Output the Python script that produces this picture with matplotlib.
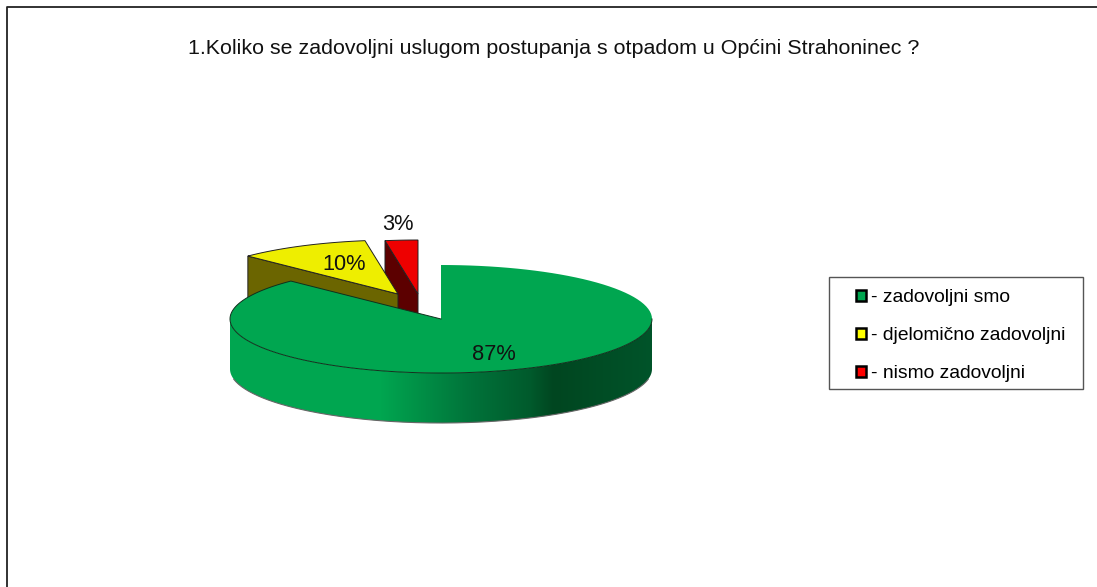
import numpy as np
import matplotlib
matplotlib.use('Agg')
import matplotlib.pyplot as plt
from matplotlib.patches import Patch, Polygon, Rectangle

plt.rcParams['font.family'] = ['Liberation Sans', 'DejaVu Sans']

title = '1.Koliko se zadovoljni uslugom postupanja s otpadom u Općini Strahoninec ?'
labels = ['- zadovoljni smo', '- djelomično zadovoljni', '- nismo zadovoljni']
values = [87.4, 10.1, 2.5]
pct_labels = ['87%', '10%', '3%']
top_colors = ['#00a650', '#eeee00', '#ee0000']
side_colors = ['#00a650', '#6b6500', '#5c0000']
legend_colors = ['#00a650', '#ffff00', '#ff0000']

# pie geometry in pixels
cx, cy = 441, 319
rx, ry = 211, 54
depth = 50
offsets = [(0, 0), (-43, -25), (-23, -25)]
label_pos = [(494, 355), (344, 265), (398, 225)]


def arc(a0, a1, ox=0, oy=0, n=120):
    # angles in degrees, clockwise from 12 o'clock
    t = np.radians(np.linspace(a0, a1, n))
    return np.column_stack([cx + ox + rx * np.sin(t), cy + oy - ry * np.cos(t)])


fig = plt.figure(figsize=(10.97, 5.87), dpi=100)
ax = fig.add_axes([0, 0, 1, 1])
ax.set_xlim(0, 1097)
ax.set_ylim(587, 0)
ax.axis('off')

# outer frame, only left and top are in the picture
ax.plot([7, 7, 1100], [590, 7, 7], color='#222222', lw=1.3)

angles = np.cumsum([0] + values) * 360.0 / sum(values)

# red slice, then yellow, then green on top
ox, oy = offsets[2]
a0, a1 = angles[2], angles[3]
edge = arc(a0, a1, ox, oy)
apex = np.array([cx + ox, cy + oy])
ax.add_patch(Polygon([edge[0], apex, apex + [0, depth], edge[0] + [0, depth]],
                     fc=side_colors[2], ec='#222222', lw=0.7))
ax.add_patch(Polygon(np.vstack([edge, apex]), fc=top_colors[2], ec='#222222', lw=0.7))

ox, oy = offsets[1]
a0, a1 = angles[1], angles[2]
edge = arc(a0, a1, ox, oy)
apex = np.array([cx + ox, cy + oy])
ax.add_patch(Polygon([edge[0], apex, apex + [0, depth], edge[0] + [0, depth]],
                     fc=side_colors[1], ec='#222222', lw=0.7))
ax.add_patch(Polygon(np.vstack([edge, apex]), fc=top_colors[1], ec='#222222', lw=0.7))

# green side wall with the horizontal shading
a0, a1 = angles[0], angles[1]
t = np.radians(np.linspace(90, 270, 200))
front = np.column_stack([cx + rx * np.sin(t), cy - ry * np.cos(t)])
wall = Polygon(np.vstack([front, (front + [0, depth])[::-1]]), fc='none', ec='none')
ax.add_patch(wall)
stops_x = [229, 380, 470, 530, 553, 653]
stops_g = [166, 166, 115, 90, 70, 84]
stops_b = [80, 80, 58, 44, 32, 42]
xs = np.arange(229, 654)
grad = np.stack([np.zeros(len(xs)),
                 np.interp(xs, stops_x, stops_g),
                 np.interp(xs, stops_x, stops_b)], axis=-1)[None, :, :] / 255.0
im = ax.imshow(grad, extent=[229, 654, 430, 260], aspect='auto', zorder=2)
im.set_clip_path(wall)
ax.set_xlim(0, 1097)
ax.set_ylim(587, 0)
low = (front + [0, depth])[12:-12]
ax.plot(low[:, 0], low[:, 1], color='#666666', lw=0.8, zorder=2.5)

# green top, outline only along the front rim and the cut
edge = arc(a0, a1)
ax.add_patch(Polygon(np.vstack([edge, [cx, cy]]), fc=top_colors[0], ec='none', zorder=3))
rim = np.vstack([arc(90, a1), [cx, cy]])
ax.plot(rim[:, 0], rim[:, 1], color='#10301c', lw=0.7, zorder=3.5)

for txt, pos in zip(pct_labels, label_pos):
    ax.text(pos[0], pos[1], txt, fontsize=15.7, ha='center', va='center',
            color='#111111', zorder=5)

ax.text(553.5, 48, title, fontsize=15.4, ha='center', va='center', color='#111111')

ax.add_patch(Rectangle((829, 277), 254, 112, fc='white', ec='#555555', lw=1.0, zorder=5))
handles = [Patch(fc=c, ec='black', lw=1.8) for c in legend_colors]
leg = ax.legend(handles, labels, loc='upper left', bbox_to_anchor=(856, 289),
                bbox_transform=ax.transData, borderaxespad=0, borderpad=0, fontsize=13.85,
                handlelength=0.5, handleheight=0.5, handletextpad=0.3,
                labelspacing=1.1, frameon=False)
leg.set_zorder(6)

fig.savefig('out.png', dpi=100)
